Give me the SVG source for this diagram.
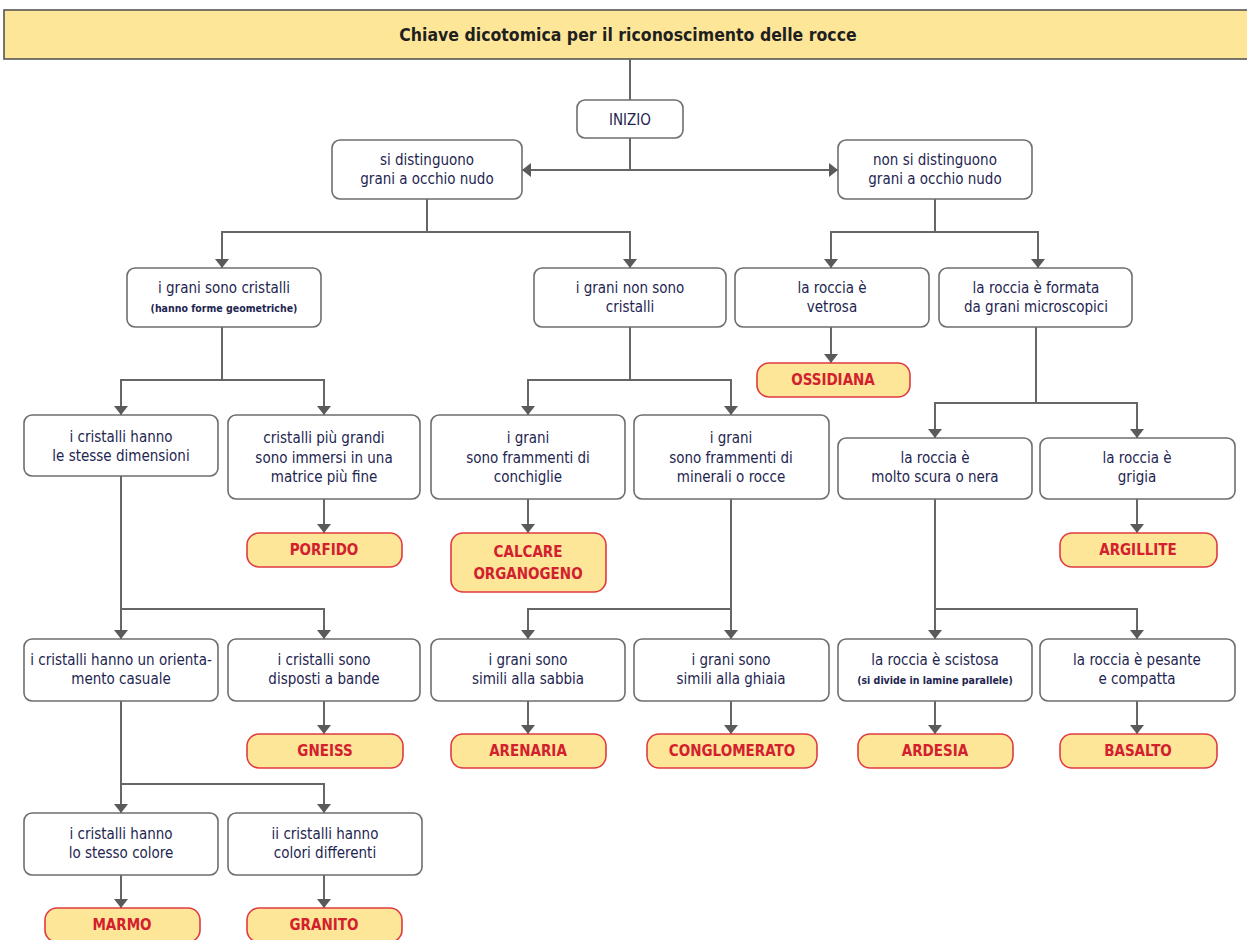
<svg xmlns="http://www.w3.org/2000/svg" width="1247" height="940" viewBox="0 0 1247 940">
<defs>
<marker id="arr" viewBox="0 0 9 14" refX="9" refY="7" markerWidth="9" markerHeight="14" markerUnits="userSpaceOnUse" orient="auto">
<path d="M0,0 L9,7 L0,14 Z" fill="#5a5a5a"/>
</marker>
<style>
.t{font-family:"DejaVu Sans Condensed","Liberation Sans Narrow","Roboto",sans-serif;font-size:15px;fill:#1e2550;text-anchor:middle}
.s{font-family:"DejaVu Sans Condensed","Liberation Sans Narrow","Roboto",sans-serif;font-size:10.5px;font-weight:bold;fill:#1e2550;text-anchor:middle}
.r{font-family:"DejaVu Sans Condensed","Liberation Sans Narrow","Roboto",sans-serif;font-size:15px;font-weight:bold;fill:#d2202e;text-anchor:middle}
.box{fill:#ffffff;stroke:#6e6e6e;stroke-width:1.6}
.pill{fill:#fee698;stroke:#e03a40;stroke-width:1.6}
.c path{fill:none;stroke:#666;stroke-width:2}
.a{marker-end:url(#arr)}
</style>
</defs>
<rect width="1247" height="940" fill="#ffffff"/>
<g id="title">
<rect x="4" y="10" width="1250" height="49" fill="#fee698" stroke="#555" stroke-width="1.6"/>
<text x="628" y="41" style="font-family:'DejaVu Sans Condensed','Liberation Sans Narrow','Roboto',sans-serif;font-size:17.5px;font-weight:bold;fill:#1f1f1f;text-anchor:middle">Chiave dicotomica per il riconoscimento delle rocce</text>
</g>
<g class="c" id="connectors">
<path d="M630,59 V100"/>
<path d="M630,138 V170"/>
<path class="a" d="M630,170 H522"/>
<path class="a" d="M630,170 H838"/>
<path class="a" d="M427,199 V232 H222 V268"/>
<path class="a" d="M427,232 H630 V268"/>
<path class="a" d="M935,199 V232 H831 V268"/>
<path class="a" d="M935,232 H1038 V268"/>
<path class="a" d="M831,327 V363"/>
<path class="a" d="M222,327 V380 H121 V415"/>
<path class="a" d="M222,380 H324 V415"/>
<path class="a" d="M630,327 V380 H528 V415"/>
<path class="a" d="M630,380 H731 V415"/>
<path class="a" d="M1036,327 V403 H935 V438"/>
<path class="a" d="M1036,403 H1137 V438"/>
<path class="a" d="M324,499 V533"/>
<path class="a" d="M528,499 V533"/>
<path class="a" d="M1137,499 V533"/>
<path class="a" d="M121,476 V639"/>
<path class="a" d="M121,609 H324 V639"/>
<path class="a" d="M731,499 V639"/>
<path class="a" d="M731,609 H528 V639"/>
<path class="a" d="M935,499 V639"/>
<path class="a" d="M935,609 H1137 V639"/>
<path class="a" d="M324,701 V734"/>
<path class="a" d="M528,701 V734"/>
<path class="a" d="M731,701 V734"/>
<path class="a" d="M935,701 V734"/>
<path class="a" d="M1137,701 V734"/>
<path class="a" d="M121,701 V813"/>
<path class="a" d="M121,784 H324 V813"/>
<path class="a" d="M121,875 V908"/>
<path class="a" d="M324,875 V908"/>
</g>
<g id="inizio"><rect class="box" x="577" y="100" width="106" height="38" rx="8"/><text class="t" x="630" y="125">INIZIO</text></g>
<g id="si-distinguono"><rect class="box" x="332" y="140" width="190" height="59" rx="8"/><text class="t" x="427" y="165">si distinguono</text><text class="t" x="427" y="184">grani a occhio nudo</text></g>
<g id="non-si-distinguono"><rect class="box" x="838" y="140" width="194" height="59" rx="8"/><text class="t" x="935" y="165">non si distinguono</text><text class="t" x="935" y="184">grani a occhio nudo</text></g>
<g id="cristalli"><rect class="box" x="127" y="268" width="194" height="59" rx="8"/><text class="t" x="224" y="293">i grani sono cristalli</text><text class="s" x="224" y="312">(hanno forme geometriche)</text></g>
<g id="non-cristalli"><rect class="box" x="534" y="268" width="192" height="59" rx="8"/><text class="t" x="630" y="293">i grani non sono</text><text class="t" x="630" y="312">cristalli</text></g>
<g id="vetrosa"><rect class="box" x="735" y="268" width="194" height="59" rx="8"/><text class="t" x="832" y="293">la roccia è</text><text class="t" x="832" y="312">vetrosa</text></g>
<g id="microscopici"><rect class="box" x="939" y="268" width="193" height="59" rx="8"/><text class="t" x="1036" y="293">la roccia è formata</text><text class="t" x="1036" y="312">da grani microscopici</text></g>
<g id="ossidiana"><rect class="pill" x="757" y="363" width="153" height="34" rx="12"/><text class="r" x="833" y="385">OSSIDIANA</text></g>
<g id="stesse-dimensioni"><rect class="box" x="24" y="415" width="194" height="61" rx="8"/><text class="t" x="121" y="442">i cristalli hanno</text><text class="t" x="121" y="461">le stesse dimensioni</text></g>
<g id="piu-grandi"><rect class="box" x="228" y="415" width="192" height="84" rx="8"/><text class="t" x="324" y="443">cristalli più grandi</text><text class="t" x="324" y="463">sono immersi in una</text><text class="t" x="324" y="482">matrice più fine</text></g>
<g id="conchiglie"><rect class="box" x="431" y="415" width="194" height="84" rx="8"/><text class="t" x="528" y="443">i grani</text><text class="t" x="528" y="463">sono frammenti di</text><text class="t" x="528" y="482">conchiglie</text></g>
<g id="minerali"><rect class="box" x="634" y="415" width="195" height="84" rx="8"/><text class="t" x="731" y="443">i grani</text><text class="t" x="731" y="463">sono frammenti di</text><text class="t" x="731" y="482">minerali o rocce</text></g>
<g id="scura"><rect class="box" x="838" y="438" width="194" height="61" rx="8"/><text class="t" x="935" y="463">la roccia è</text><text class="t" x="935" y="482">molto scura o nera</text></g>
<g id="grigia"><rect class="box" x="1040" y="438" width="195" height="61" rx="8"/><text class="t" x="1137" y="463">la roccia è</text><text class="t" x="1137" y="482">grigia</text></g>
<g id="porfido"><rect class="pill" x="247" y="533" width="155" height="34" rx="12"/><text class="r" x="324" y="555">PORFIDO</text></g>
<g id="calcare"><rect class="pill" x="451" y="533" width="155" height="59" rx="12"/><text class="r" x="528" y="557">CALCARE</text><text class="r" x="528" y="579">ORGANOGENO</text></g>
<g id="argillite"><rect class="pill" x="1060" y="533" width="157" height="34" rx="12"/><text class="r" x="1138" y="555">ARGILLITE</text></g>
<g id="orientamento"><rect class="box" x="24" y="639" width="194" height="62" rx="8"/><text class="t" x="121" y="665">i cristalli hanno un orienta-</text><text class="t" x="121" y="684">mento casuale</text></g>
<g id="bande"><rect class="box" x="228" y="639" width="192" height="62" rx="8"/><text class="t" x="324" y="665">i cristalli sono</text><text class="t" x="324" y="684">disposti a bande</text></g>
<g id="sabbia"><rect class="box" x="431" y="639" width="194" height="62" rx="8"/><text class="t" x="528" y="665">i grani sono</text><text class="t" x="528" y="684">simili alla sabbia</text></g>
<g id="ghiaia"><rect class="box" x="634" y="639" width="195" height="62" rx="8"/><text class="t" x="731" y="665">i grani sono</text><text class="t" x="731" y="684">simili alla ghiaia</text></g>
<g id="scistosa"><rect class="box" x="838" y="639" width="194" height="62" rx="8"/><text class="t" x="935" y="665">la roccia è scistosa</text><text class="s" x="935" y="684">(si divide in lamine parallele)</text></g>
<g id="pesante"><rect class="box" x="1040" y="639" width="195" height="62" rx="8"/><text class="t" x="1137" y="665">la roccia è pesante</text><text class="t" x="1137" y="684">e compatta</text></g>
<g id="gneiss"><rect class="pill" x="247" y="734" width="156" height="34" rx="12"/><text class="r" x="325" y="756">GNEISS</text></g>
<g id="arenaria"><rect class="pill" x="451" y="734" width="155" height="34" rx="12"/><text class="r" x="528" y="756">ARENARIA</text></g>
<g id="conglomerato"><rect class="pill" x="647" y="734" width="170" height="34" rx="12"/><text class="r" x="732" y="756">CONGLOMERATO</text></g>
<g id="ardesia"><rect class="pill" x="858" y="734" width="155" height="34" rx="12"/><text class="r" x="935" y="756">ARDESIA</text></g>
<g id="basalto"><rect class="pill" x="1060" y="734" width="157" height="34" rx="12"/><text class="r" x="1138" y="756">BASALTO</text></g>
<g id="stesso-colore"><rect class="box" x="24" y="813" width="194" height="62" rx="8"/><text class="t" x="121" y="839">i cristalli hanno</text><text class="t" x="121" y="858">lo stesso colore</text></g>
<g id="colori-differenti"><rect class="box" x="228" y="813" width="194" height="62" rx="8"/><text class="t" x="325" y="839">ii cristalli hanno</text><text class="t" x="325" y="858">colori differenti</text></g>
<g id="marmo"><rect class="pill" x="45" y="908" width="155" height="34" rx="12"/><text class="r" x="122" y="930">MARMO</text></g>
<g id="granito"><rect class="pill" x="247" y="908" width="155" height="34" rx="12"/><text class="r" x="324" y="930">GRANITO</text></g>
</svg>
